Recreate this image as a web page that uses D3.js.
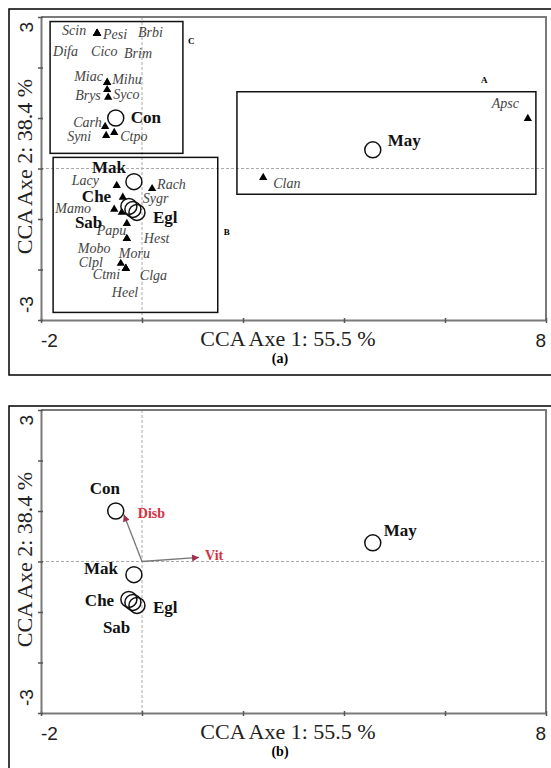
<!DOCTYPE html>
<html>
<head>
<meta charset="utf-8">
<script src="https://cdn.jsdelivr.net/npm/d3@7"></script>
<style>
body { margin: 0; background: #fff; }
svg { display: block; }
</style>
</head>
<body>
<svg id="chart"></svg>
<script>
// site scores (circles)
var sites = ["Con", "Mak", "Che", "Sab", "Egl", "May"];
var siteX = [-0.52, -0.16, -0.26, -0.18, -0.10, 4.57];
var siteY = [1.00, -0.26, -0.75, -0.81, -0.87, 0.37];

// species scores (triangles), several species share one point
var species = ["Scin", "Pesi", "Brbi", "Difa", "Cico", "Brim", "Miac", "Mihu", "Brys", "Syco",
               "Carh", "Syni", "Ctpo", "Lacy", "Rach", "Sygr", "Mamo", "Papu", "Hest", "Moru",
               "Mobo", "Clpl", "Ctmi", "Clga", "Heel", "Clan", "Apsc"];
var speciesX = [-0.89, -0.89, -0.89, -0.89, -0.89, -0.89, -0.69, -0.69, -0.69, -0.67,
                -0.73, -0.71, -0.55, -0.50, 0.20, -0.38, -0.55, -0.40, -0.30, -0.30,
                -0.30, -0.42, -0.32, -0.32, -0.32, 2.40, 7.64];
var speciesY = [2.67, 2.67, 2.67, 2.67, 2.67, 2.67, 1.70, 1.70, 1.56, 1.41,
                0.83, 0.65, 0.71, -0.34, -0.40, -0.57, -0.81, -0.87, -1.09, -1.39,
                -1.39, -1.88, -1.98, -1.98, -1.98, -0.18, 0.99];

// environmental variables (arrows, panel b)
var envVars = ["Disb", "Vit"];
var envX = [-0.36, 1.13];
var envY = [0.93, 0.08];

// groups drawn as boxes in panel a
var groups = ["C", "B", "A"];
var groupX0 = [-1.82, -1.76, 1.88];
var groupX1 = [0.81, 1.50, 7.80];
var groupY0 = [0.30, -2.85, -0.51];
var groupY1 = [2.91, 0.22, 1.52];

// axes
var xTicks = [-2, 0, 2, 4, 6, 8];
var yTicks = [-3, -2, -1, 0, 1, 2, 3];
var xTickLabels = ["-2", "8"];
var yTickLabels = ["3", "-3"];
var xTitle = "CCA Axe 1: 55.5 %";
var yTitle = "CCA Axe 2: 38.4 %";

// label placement (pixels from the point)
var speciesLabelOffset = {
  Scin: [-35, 1], Pesi: [6, 5], Brbi: [41, 3], Difa: [-44, 22], Cico: [-6, 22], Brim: [27, 24],
  Miac: [-33, -2], Mihu: [5, 1], Brys: [-32, 10], Syco: [5, 2], Carh: [-32, 0], Syni: [-39, 5],
  Ctpo: [6, 8], Lacy: [-45, -1], Rach: [5, 0], Sygr: [20, 6], Mamo: [-59, 4], Papu: [-25, 23],
  Hest: [17, 19], Moru: [-8, 19], Mobo: [-49, 14], Clpl: [-42, 4], Ctmi: [-33, 11],
  Clga: [14, 12], Heel: [-14, 29], Clan: [10, 10], Apsc: [-36, -11]
};
var siteLabelOffsetA = { Con: [15, 5], Mak: [-42, -9], Che: [-47, -4], Sab: [-58, 19], Egl: [16, 11], May: [15, -4] };
var siteLabelOffsetB = { Con: [-26, -17], Mak: [-50, -1], Che: [-44, 7], Sab: [-30, 31], Egl: [16, 8], May: [11, -7] };
var groupLabelOffset = { C: [5, 22, "x1", "y1"], B: [6, 0, "x1", "mid"], A: [-55, -9, "x1", "y1"] };

var serif = "'Liberation Serif', 'Times New Roman', serif";
var sans = "'Liberation Sans', Arial, sans-serif";

var svg = d3.select("#chart").attr("width", 551).attr("height", 768);
svg.append("rect").attr("width", 551).attr("height", 768).attr("fill", "#fff");

svg.append("defs").append("marker")
    .attr("id", "arr")
    .attr("viewBox", "0 0 10 10")
    .attr("refX", 10).attr("refY", 5)
    .attr("markerWidth", 9).attr("markerHeight", 7)
    .attr("markerUnits", "userSpaceOnUse")
    .attr("orient", "auto")
  .append("path")
    .attr("d", "M0,0L10,5L0,10z")
    .attr("fill", "#9e2f4e");

var x = d3.scaleLinear().domain([-2, 8]).range([41, 546]);

// outer frames
svg.append("rect").attr("x", 9).attr("y", 9).attr("width", 545).attr("height", 366)
    .attr("fill", "none").attr("stroke", "#000").attr("stroke-width", 1.5);
svg.append("rect").attr("x", 9).attr("y", 406).attr("width", 545).attr("height", 400)
    .attr("fill", "none").attr("stroke", "#000").attr("stroke-width", 1.5);

function drawFrame(y, caption) {
  var g = svg.append("g");
  var top = y(3), bottom = y(-3);

  // dashed zero lines
  g.append("line").attr("x1", x(0)).attr("x2", x(0)).attr("y1", top).attr("y2", bottom)
      .attr("stroke", "#aaa").attr("stroke-dasharray", "3,2");
  g.append("line").attr("x1", x(-2)).attr("x2", x(8)).attr("y1", y(0)).attr("y2", y(0))
      .attr("stroke", "#aaa").attr("stroke-dasharray", "3,2");

  // top and right frame
  g.append("path")
      .attr("d", "M" + x(-2) + "," + top + "H" + x(8) + "V" + bottom)
      .attr("fill", "none").attr("stroke", "#7a7a7a").attr("stroke-width", 2);

  var xa = g.append("g").attr("transform", "translate(0," + bottom + ")")
      .call(d3.axisBottom(x).tickValues(xTicks).tickSizeInner(3).tickSizeOuter(0).tickFormat(""));
  var ya = g.append("g").attr("transform", "translate(" + x(-2) + ",0)")
      .call(d3.axisLeft(y).tickValues(yTicks).tickSizeInner(3).tickSizeOuter(0).tickFormat(""));
  [xa, ya].forEach(function(a) {
    a.select(".domain").attr("stroke", "#7a7a7a").attr("stroke-width", 2);
    a.selectAll(".tick line").attr("stroke", "#555").attr("stroke-width", 1.5);
  });
  xa.selectAll(".tick line").attr("y1", -2);
  ya.selectAll(".tick line").attr("x1", 2);

  // end tick labels
  g.append("text").attr("x", x(-2)).attr("y", bottom + 27).text(xTickLabels[0])
      .style("font-family", sans).style("font-size", "19px").attr("fill", "#222");
  g.append("text").attr("x", x(8)).attr("y", bottom + 27).attr("text-anchor", "end").text(xTickLabels[1])
      .style("font-family", sans).style("font-size", "19px").attr("fill", "#222");
  g.append("text").attr("transform", "translate(33," + (top + 5) + ") rotate(-90)")
      .attr("text-anchor", "end").text(yTickLabels[0])
      .style("font-family", sans).style("font-size", "19px").attr("fill", "#222");
  g.append("text").attr("transform", "translate(33," + (bottom - 7) + ") rotate(-90)")
      .attr("text-anchor", "start").text(yTickLabels[1])
      .style("font-family", sans).style("font-size", "19px").attr("fill", "#222");

  // axis titles
  g.append("text").attr("x", 288).attr("y", bottom + 26).attr("text-anchor", "middle").text(xTitle)
      .style("font-family", serif).style("font-size", "22px").attr("fill", "#222");
  g.append("text").attr("transform", "translate(32," + (y(0) - 2) + ") rotate(-90)")
      .attr("text-anchor", "middle").text(yTitle)
      .style("font-family", serif).style("font-size", "22px").attr("fill", "#222");

  g.append("text").attr("x", 280).attr("y", bottom + 43).attr("text-anchor", "middle").text(caption)
      .style("font-family", serif).style("font-size", "14px").style("font-weight", "bold");
  return g;
}

function drawSites(g, y, offsets) {
  g.selectAll(".site").data(sites).enter().append("circle")
      .attr("cx", function(d, i) { return x(siteX[i]); })
      .attr("cy", function(d, i) { return y(siteY[i]); })
      .attr("r", 8)
      .attr("fill", "none").attr("stroke", "#111").attr("stroke-width", 1.5);
  g.selectAll(".siteLabel").data(sites).enter().append("text")
      .attr("x", function(d, i) { return x(siteX[i]) + offsets[d][0]; })
      .attr("y", function(d, i) { return y(siteY[i]) + offsets[d][1]; })
      .text(function(d) { return d; })
      .style("font-family", serif).style("font-size", "17px").style("font-weight", "bold")
      .attr("fill", "#111");
}

// ---------- panel (a)
var ya = d3.scaleLinear().domain([-3, 3]).range([320, 17]);
var ga = drawFrame(ya, "(a)");

groups.forEach(function(name, i) {
  ga.append("rect")
      .attr("x", x(groupX0[i])).attr("y", ya(groupY1[i]))
      .attr("width", x(groupX1[i]) - x(groupX0[i]))
      .attr("height", ya(groupY0[i]) - ya(groupY1[i]))
      .attr("fill", "none").attr("stroke", "#111").attr("stroke-width", 1.5);
  var o = groupLabelOffset[name];
  var ly = o[3] === "mid" ? (ya(groupY0[i]) + ya(groupY1[i])) / 2 : ya(groupY1[i]);
  ga.append("text").attr("x", x(groupX1[i]) + o[0]).attr("y", ly + o[1]).text(name)
      .style("font-family", serif).style("font-size", "9px").style("font-weight", "bold");
});

var tri = d3.symbol().type(d3.symbolTriangle).size(30);
ga.selectAll(".sp").data(species).enter().append("path")
    .attr("d", tri)
    .attr("transform", function(d, i) { return "translate(" + x(speciesX[i]) + "," + ya(speciesY[i]) + ")"; })
    .attr("fill", "#000");
ga.selectAll(".spLabel").data(species).enter().append("text")
    .attr("x", function(d, i) { return x(speciesX[i]) + speciesLabelOffset[d][0]; })
    .attr("y", function(d, i) { return ya(speciesY[i]) + speciesLabelOffset[d][1]; })
    .text(function(d) { return d; })
    .style("font-family", serif).style("font-size", "14px").style("font-style", "italic")
    .attr("fill", "#444");

drawSites(ga, ya, siteLabelOffsetA);

// ---------- panel (b)
var yb = d3.scaleLinear().domain([-3, 3]).range([713, 410]);
var gb = drawFrame(yb, "(b)");

gb.selectAll(".env").data(envVars).enter().append("line")
    .attr("x1", x(0)).attr("y1", yb(0))
    .attr("x2", function(d, i) { return x(envX[i]); })
    .attr("y2", function(d, i) { return yb(envY[i]); })
    .attr("stroke", "#777").attr("stroke-width", 1.3)
    .attr("marker-end", "url(#arr)");
var envLabelOffset = { Disb: [14, 3], Vit: [6, 3] };
gb.selectAll(".envLabel").data(envVars).enter().append("text")
    .attr("x", function(d, i) { return x(envX[i]) + envLabelOffset[d][0]; })
    .attr("y", function(d, i) { return yb(envY[i]) + envLabelOffset[d][1]; })
    .text(function(d) { return d; })
    .style("font-family", serif).style("font-size", "14px").style("font-weight", "bold")
    .attr("fill", "#d2323f");

drawSites(gb, yb, siteLabelOffsetB);
</script>
</body>
</html>
